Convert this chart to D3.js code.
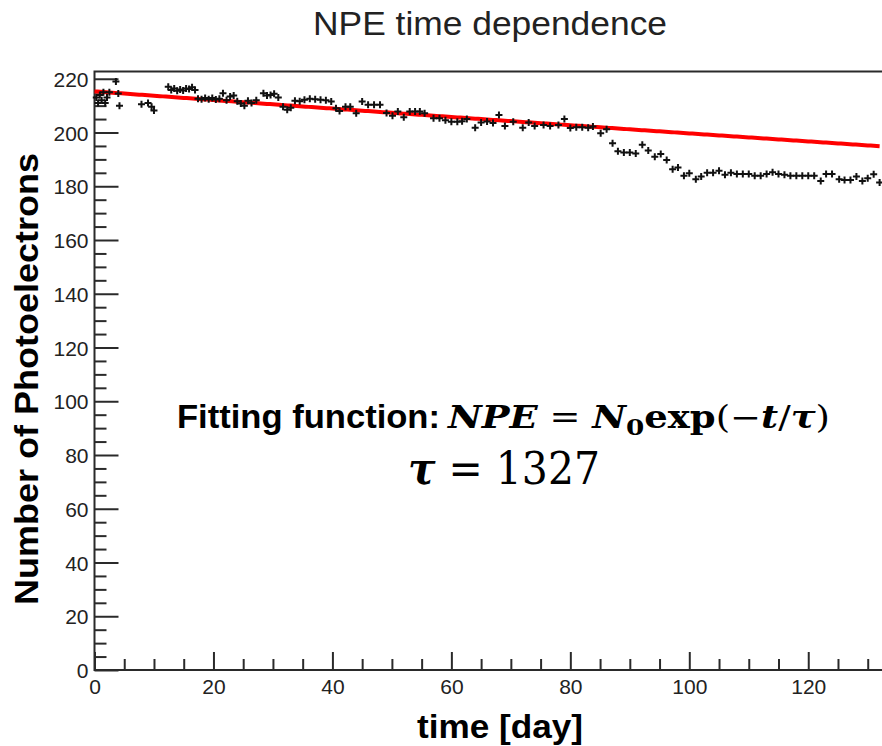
<!DOCTYPE html>
<html lang="en">
  <head>
    <meta charset="utf-8" />
    <title>NPE time dependence</title>
    <script src="https://d3js.org/d3.v7.min.js"></script>
    <style>
      body {
        margin: 0;
        background-color: #ffffff;
      }
      svg {
        display: block;
      }
      .tick text {
        font-family: "Liberation Sans", Arial, sans-serif;
      }
    </style>
  </head>

  <body>
    <div id="chart"></div>

    <script>
      // measured data points (day, photoelectrons)
      const days = [
        0.3, 0.6, 0.9, 1.2, 1.5, 1.8, 2.1, 2.5, 3.6, 4.0, 4.2, 7.9, 9.0, 9.6,
        10.0, 12.4, 12.9, 13.4, 13.9, 14.4, 14.9, 15.4, 15.9, 16.4, 16.9, 17.4,
        18.0, 18.6, 19.2, 19.8, 20.4, 21.0, 21.6, 22.2, 22.8, 23.4, 24.0, 24.6,
        25.2, 25.8, 26.4, 27.2, 28.4, 29.0, 29.6, 30.2, 30.9, 31.7, 32.4, 33.0,
        33.7, 34.5, 35.3, 36.2, 37.1, 38.0, 38.9, 39.8, 40.6, 41.2, 42.2, 43.0,
        44.0, 45.0, 46.0, 47.0, 48.0, 49.1, 50.1, 51.0, 52.0, 53.0, 53.9, 54.7,
        55.5, 57.0, 58.0, 59.0, 60.0, 61.0, 61.8, 62.6, 64.0, 65.0, 66.0, 67.0,
        68.0, 69.0, 70.4, 72.0, 73.0, 74.0, 75.5, 76.6, 78.0, 79.0, 80.0, 81.0,
        82.0, 83.0, 83.8, 85.1, 86.1, 87.1, 88.0, 89.0, 90.0, 91.0, 92.1, 93.1,
        94.2, 95.2, 96.2, 97.2, 98.1, 99.1, 100.0, 101.1, 102.0, 103.0, 104.0,
        105.0, 106.0, 107.0, 108.0, 109.0, 110.0, 111.0, 112.0, 113.0, 114.0,
        115.0, 116.0, 117.0, 118.0, 119.0, 120.0, 121.0, 122.1, 123.0, 124.0,
        125.2, 126.1, 127.1, 128.1, 129.1, 130.0, 131.0, 132.0,
      ];
      const npe = [
        213, 211, 214, 212, 215, 211, 213, 215, 219, 214.5, 210, 210.5, 211,
        209.6, 208.2, 217, 215.8, 216.4, 215.5, 216, 215.6, 216.4, 216.2, 216.8,
        215.8, 212.6, 212.4, 212.8, 212.4, 212.8, 212.3, 212.6, 214.6, 212.0,
        213.4, 213.8, 211.6, 210.8, 210, 211.8, 211, 212, 214.6, 213.8, 214,
        214.4, 213, 209.6, 208.5, 209.2, 211.8, 211.6, 212.2, 212.6, 212.4,
        212.2, 212, 211.5, 209, 208, 209.6, 209.6, 207.2, 211.5, 210.3, 210.3,
        210.3, 207.3, 206.2, 207.8, 205.7, 207.8, 207.8, 207.8, 207.2, 205.3,
        205.3, 204.6, 204, 204, 204.2, 205, 201.8, 203.7, 204.1, 203.5, 206.5,
        202.4, 204, 201.8, 203.7, 202.4, 202.8, 202.4, 202.8, 205, 201.7, 202,
        202, 201.8, 202.2, 199.7, 201.2, 196, 193, 192.6, 192.6, 192.2, 195.4,
        193.3, 191, 192, 189.8, 186.3, 187, 183.9, 184.8, 182.6, 183.6, 185,
        185, 185.8, 184.3, 185, 184.6, 184.6, 184.6, 183.9, 183.9, 184.6, 185.2,
        184.6, 184.3, 183.9, 183.9, 183.9, 183.9, 183.9, 182, 184.6, 184.6,
        182.6, 182.3, 182.3, 183.6, 182, 183, 184.5, 181.4,
      ];

      // fit result shown on the chart
      const fitN0 = 215.3;
      const fitTau = 1327;

      const xMajor = [0, 20, 40, 60, 80, 100, 120];
      const yMajor = [0, 20, 40, 60, 80, 100, 120, 140, 160, 180, 200, 220];

      const W = 882,
        H = 746;
      const plot = { left: 94.5, right: 882, top: 71.5, bottom: 670 };

      const svg = d3
        .select("#chart")
        .append("svg")
        .attr("width", W)
        .attr("height", H);

      const x = d3
        .scaleLinear()
        .domain([0, 132.4])
        .range([plot.left, plot.right]);
      const y = d3
        .scaleLinear()
        .domain([0, 222.7])
        .range([plot.bottom, plot.top]);

      const axisColor = "#2a2a2a";

      // frame
      svg
        .append("rect")
        .attr("x", plot.left)
        .attr("y", plot.top)
        .attr("width", plot.right - plot.left + 10)
        .attr("height", plot.bottom - plot.top)
        .attr("fill", "none")
        .attr("stroke", axisColor)
        .attr("stroke-width", 2);

      // minor ticks
      const xMinor = d3.range(0, 133, 5).filter((v) => v % 20 !== 0);
      const yMinor = d3.range(0, 223, 5).filter((v) => v % 20 !== 0);

      svg
        .append("g")
        .attr("transform", `translate(0,${plot.bottom})`)
        .call(d3.axisBottom(x).tickValues(xMinor).tickSize(-11).tickFormat(""))
        .call((g) => g.select(".domain").remove())
        .selectAll("line")
        .attr("stroke", axisColor)
        .attr("stroke-width", 2);

      svg
        .append("g")
        .attr("transform", `translate(${plot.left},0)`)
        .call(d3.axisLeft(y).tickValues(yMinor).tickSize(-12).tickFormat(""))
        .call((g) => g.select(".domain").remove())
        .selectAll("line")
        .attr("stroke", axisColor)
        .attr("stroke-width", 2);

      // major ticks + labels
      const xAxis = svg
        .append("g")
        .attr("transform", `translate(0,${plot.bottom})`)
        .call(
          d3.axisBottom(x).tickValues(xMajor).tickSize(-18).tickPadding(8)
        );
      xAxis.select(".domain").remove();
      xAxis.selectAll("line").attr("stroke", axisColor).attr("stroke-width", 2);
      xAxis
        .selectAll("text")
        .attr("y", 24)
        .attr("dy", 0)
        .style("font-size", "21px")
        .attr("fill", "#222");

      const yAxis = svg
        .append("g")
        .attr("transform", `translate(${plot.left},0)`)
        .call(d3.axisLeft(y).tickValues(yMajor).tickSize(-24));
      yAxis.select(".domain").remove();
      yAxis.selectAll("line").attr("stroke", axisColor).attr("stroke-width", 2);
      yAxis
        .selectAll("text")
        .attr("x", -6)
        .attr("dy", "0.36em")
        .style("font-size", "21px")
        .attr("fill", "#222");

      // fit curve
      const fitDays = d3.range(0, 132.5, 0.5);
      const line = d3
        .line()
        .x((d) => x(d))
        .y((d) => y(fitN0 * Math.exp(-d / fitTau)));

      svg
        .append("path")
        .datum(fitDays)
        .attr("d", line)
        .attr("fill", "none")
        .attr("stroke", "#ff0000")
        .attr("stroke-width", 4);

      // data markers (+)
      const pts = days.map((d, i) => ({ day: d, value: npe[i] }));
      svg
        .append("g")
        .selectAll("path")
        .data(pts)
        .join("path")
        .attr(
          "d",
          (d) =>
            `M${x(d.day) - 3.5},${y(d.value)}h7M${x(d.day)},${y(d.value) - 3.5}v7`
        )
        .attr("stroke", "#111")
        .attr("stroke-width", 2);

      // title
      svg
        .append("text")
        .attr("x", 490)
        .attr("y", 35)
        .attr("text-anchor", "middle")
        .attr("textLength", 354)
        .attr("lengthAdjust", "spacingAndGlyphs")
        .style("font-family", '"Liberation Sans", Arial, sans-serif')
        .style("font-size", "33px")
        .attr("fill", "#222")
        .text("NPE time dependence");

      // axis titles
      svg
        .append("text")
        .attr("x", 500)
        .attr("y", 738)
        .attr("text-anchor", "middle")
        .attr("textLength", 166)
        .attr("lengthAdjust", "spacingAndGlyphs")
        .style("font-family", '"Liberation Sans", Arial, sans-serif')
        .style("font-weight", "bold")
        .style("font-size", "33px")
        .text("time [day]");

      svg
        .append("text")
        .attr("transform", "translate(38,379) rotate(-90)")
        .attr("text-anchor", "middle")
        .attr("textLength", 452)
        .attr("lengthAdjust", "spacingAndGlyphs")
        .style("font-family", '"Liberation Sans", Arial, sans-serif')
        .style("font-weight", "bold")
        .style("font-size", "33px")
        .text("Number of Photoelectrons");

      // fit annotation
      svg
        .append("text")
        .attr("x", 177)
        .attr("y", 428)
        .attr("textLength", 263)
        .attr("lengthAdjust", "spacingAndGlyphs")
        .style("font-family", '"Liberation Sans", Arial, sans-serif')
        .style("font-weight", "bold")
        .style("font-size", "33px")
        .text("Fitting function:");

      const eq = svg
        .append("text")
        .attr("x", 448)
        .attr("y", 428)
        .attr("textLength", 382)
        .attr("lengthAdjust", "spacingAndGlyphs")
        .style("font-family", '"DejaVu Serif", "Liberation Serif", serif')
        .style("font-size", "31px");
      eq.append("tspan").style("font-weight", "bold").style("font-style", "italic").text("NPE");
      eq.append("tspan").text(" = ");
      eq.append("tspan").style("font-weight", "bold").style("font-style", "italic").text("N");
      eq.append("tspan").attr("dy", 7).style("font-weight", "bold").style("font-size", "22px").text("0");
      eq.append("tspan").attr("dy", -7).style("font-weight", "bold").text("exp");
      eq.append("tspan").text("(−");
      eq.append("tspan").style("font-weight", "bold").style("font-style", "italic").text("t");
      eq.append("tspan").text("/");
      eq.append("tspan").style("font-weight", "bold").style("font-style", "italic").text("τ");
      eq.append("tspan").text(")");

      const tauText = svg
        .append("text")
        .attr("x", 504)
        .attr("y", 484)
        .attr("text-anchor", "middle")
        .attr("textLength", 192)
        .attr("lengthAdjust", "spacingAndGlyphs")
        .style("font-family", '"DejaVu Serif", "Liberation Serif", serif')
        .style("font-size", "44px");
      tauText.append("tspan").style("font-weight", "bold").style("font-style", "italic").text("τ");
      tauText.append("tspan").text(" = " + fitTau);
    </script>
  </body>
</html>
